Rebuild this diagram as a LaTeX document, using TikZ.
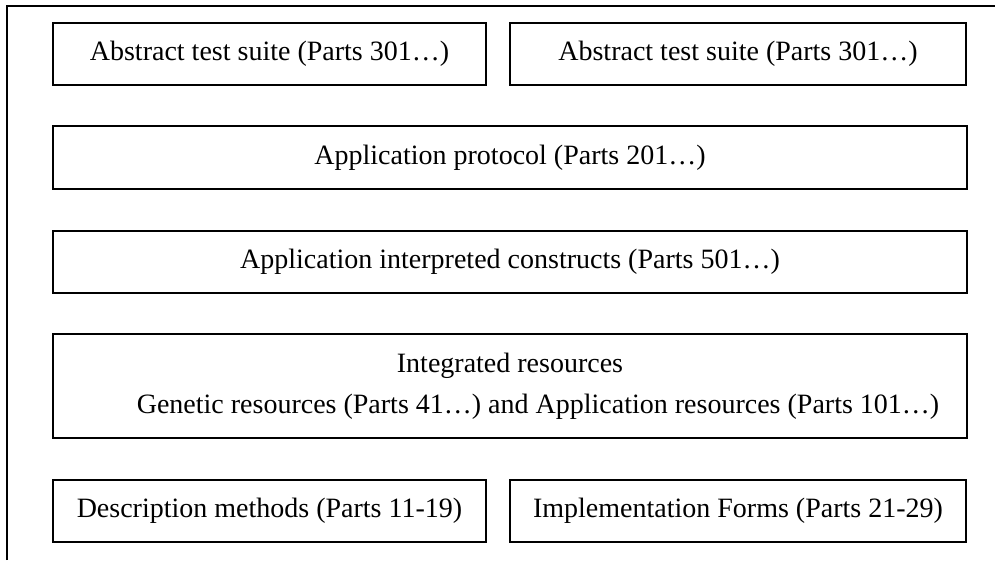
\documentclass[tikz,border=0pt]{standalone}
\usepackage{fontspec}
\setmainfont{Liberation Serif}
\usepackage{tikz}

\begin{document}
\begin{tikzpicture}[x=0.75pt, y=-0.75pt]
              \useasboundingbox (0, 0) rectangle (995, 563);
              \newcommand{\partbox}[5]
              {%
                \node[draw, line width=1.3pt, inner sep=0pt, align=center,
                      font=\fontsize{21}{25}\selectfont,
                      minimum width=#3*0.75pt, minimum height=#4*0.75pt] (#1) at #2 {#5};%
              }%
              \draw[line width=1.3pt] (7, 560) -- (7, 6) -- (995, 6);
              \partbox{ats1}{(269.5, 54)}{433}{62}{Abstract test suite (Parts 301\ldots)}
              \partbox{ats2}{(738, 54)}{456}{62}{Abstract test suite (Parts 301\ldots)}
              \partbox{ap}{(510, 157.5)}{914}{63}{Application protocol (Parts 201\ldots)}
              \partbox{aic}{(510, 262)}{914}{62}{Application interpreted constructs (Parts 501\ldots)}
              \partbox{ir}{(510, 386)}{914}{104}{Integrated resources\\[6pt]\hspace*{42pt}Genetic resources (Parts 41\ldots) and Application resources (Parts 101\ldots)}
              \partbox{dm}{(269.5, 511)}{433}{62}{Description methods (Parts 11-19)}
              \partbox{if}{(738, 511)}{456}{62}{Implementation Forms (Parts 21-29)}
            \end{tikzpicture}
\end{document}
